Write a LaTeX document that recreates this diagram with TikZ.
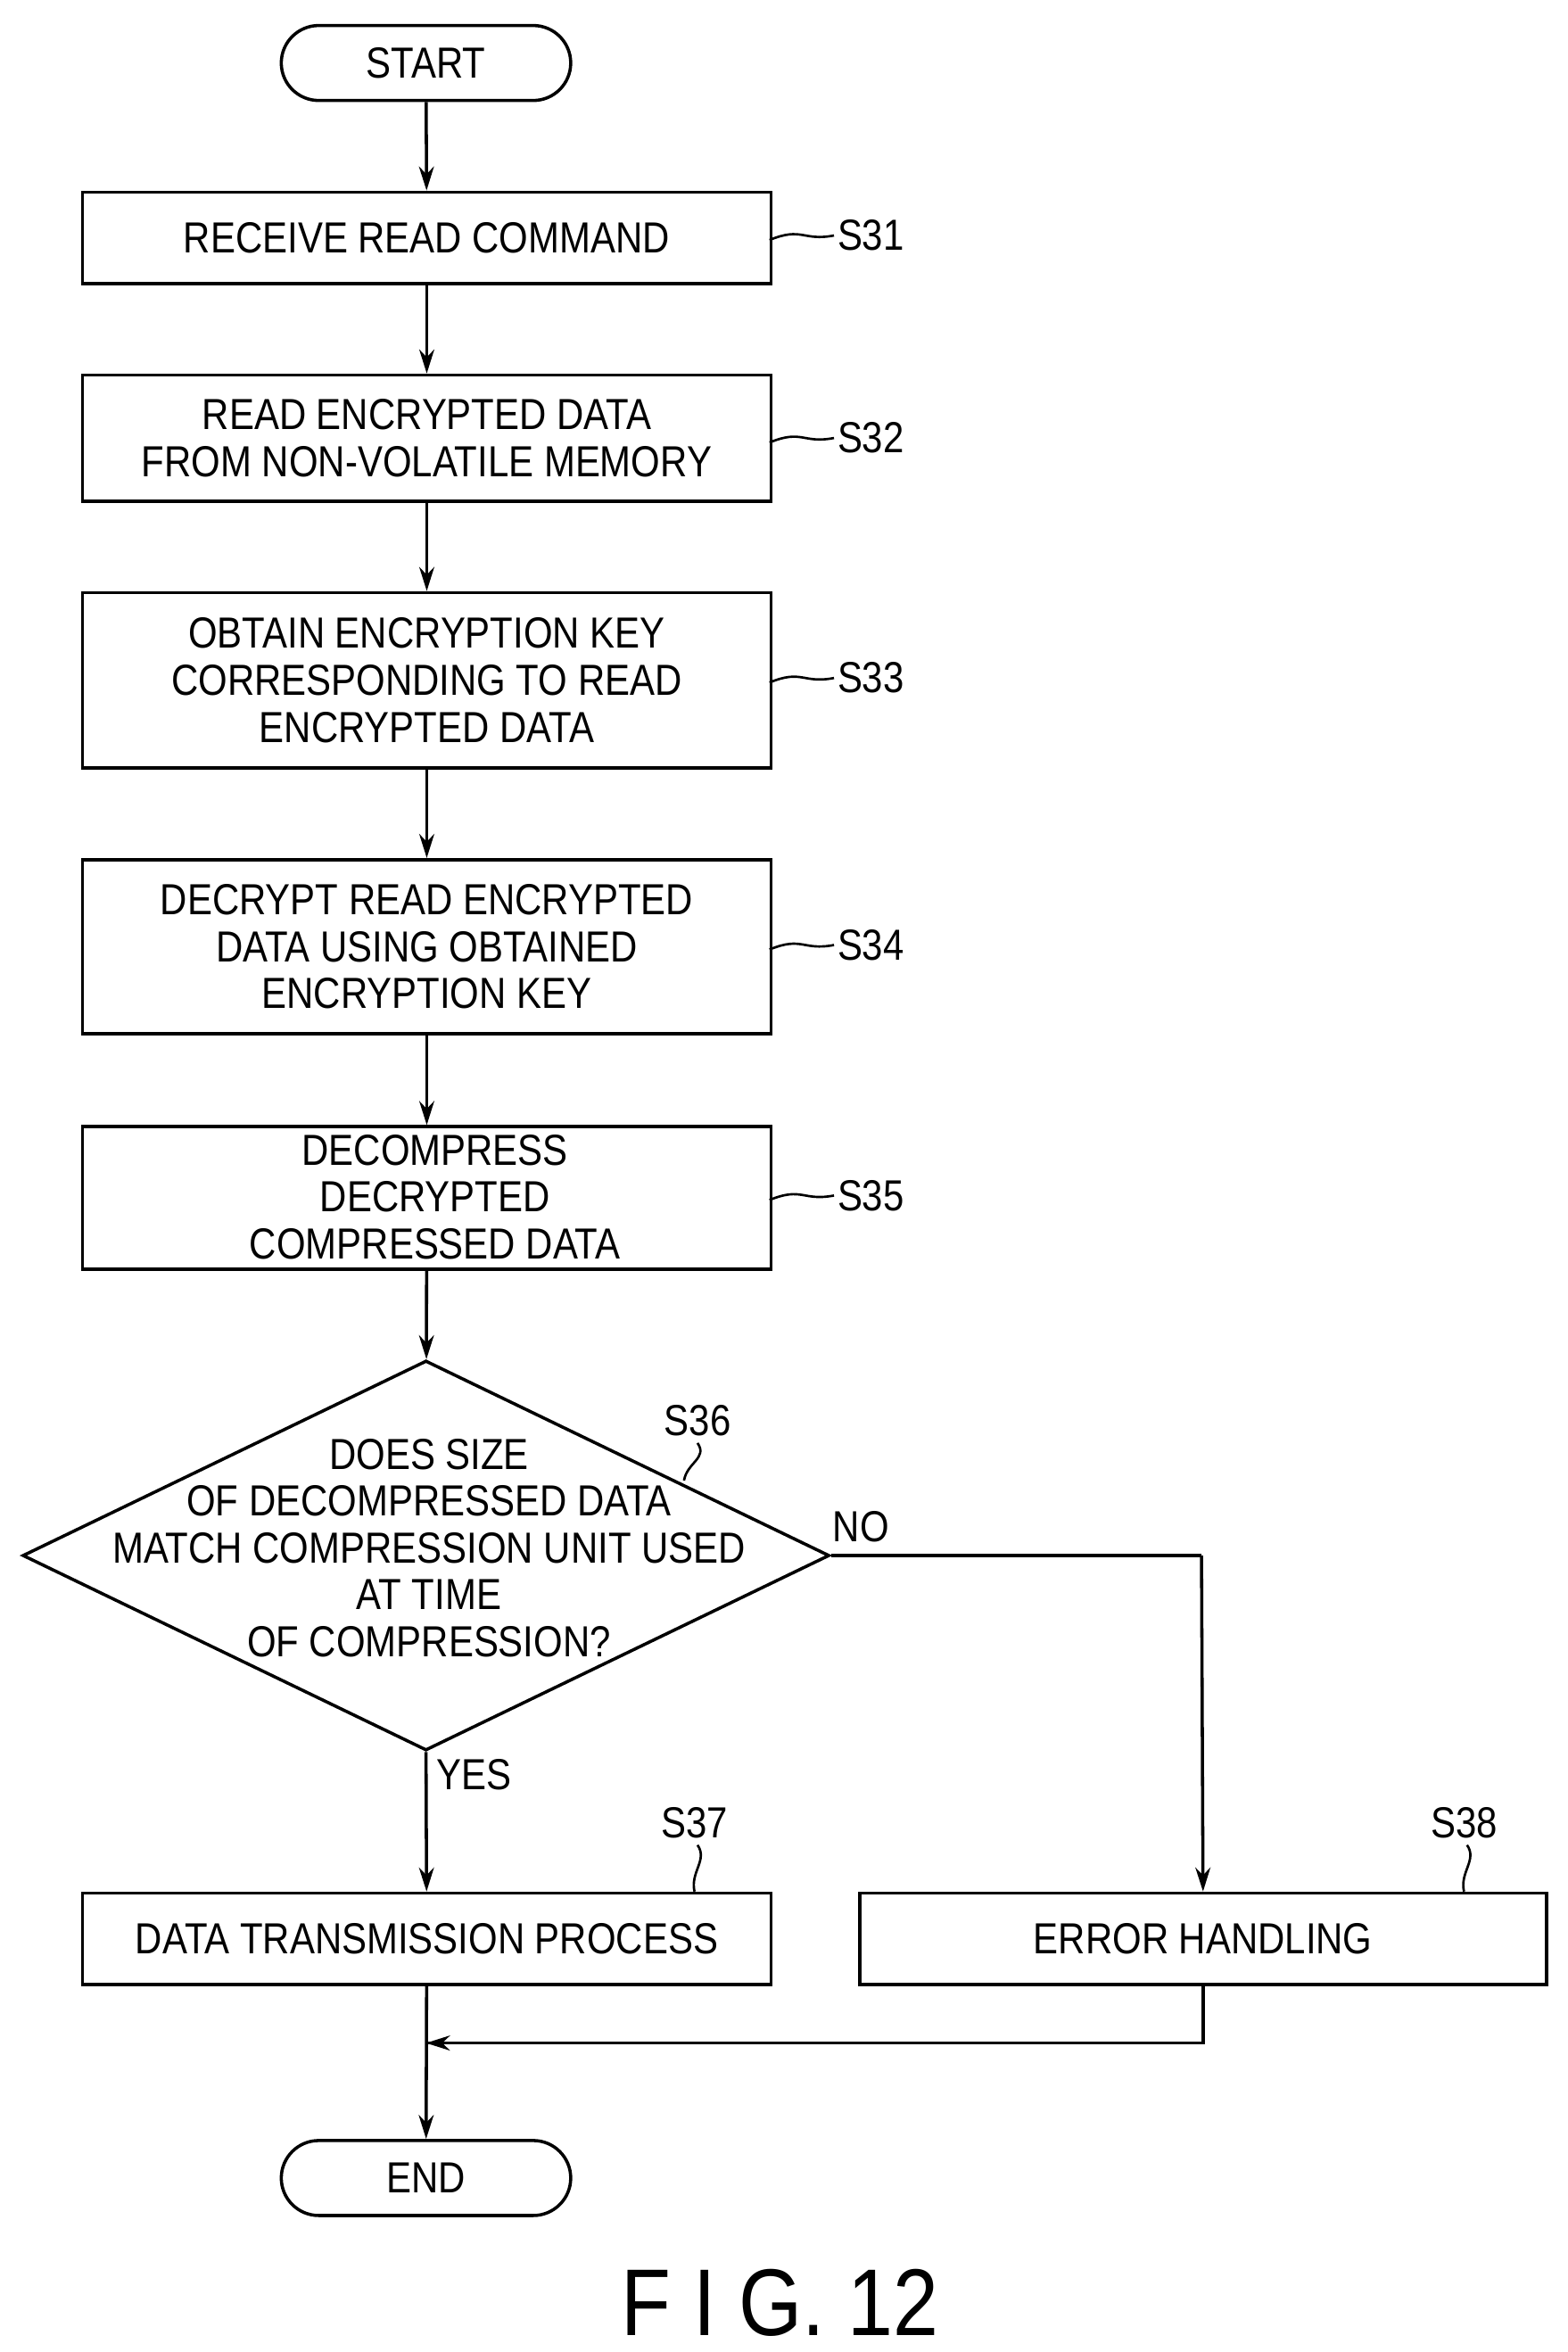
\documentclass[tikz,border=0pt]{standalone}
\usepackage{fontspec}
\setmainfont{Liberation Sans}[FakeStretch=0.86]
\usetikzlibrary{shapes.geometric,arrows.meta}
\begin{document}
\begin{tikzpicture}[x=0.02cm,y=-0.02cm,
  every node/.style={font=\fontsize{16.5}{17.8}\selectfont, align=center, inner sep=0pt},
  box/.style={draw, line width=1.2pt, minimum width=9.18cm, anchor=north west},
  term/.style={draw, line width=1.2pt, rounded corners=0.5cm, minimum width=3.86cm, minimum height=1cm},
  arr/.style={line width=1.2pt, -{Stealth[length=0.32cm,width=0.2cm]}},
  ln/.style={line width=1.2pt},
  sq/.style={line width=0.9pt}]
\fill[white] (0,0) rectangle (1045,1568);
\node[term] (start) at (284,42) {START};
\node[box, minimum height=1.22cm] (s31) at (54,127) {RECEIVE READ COMMAND};
\node[box, minimum height=1.68cm] (s32) at (54,249) {READ ENCRYPTED DATA\\FROM NON-VOLATILE MEMORY};
\node[box, minimum height=2.34cm] (s33) at (54,394) {OBTAIN ENCRYPTION KEY\\CORRESPONDING TO READ\\ENCRYPTED DATA};
\node[box, minimum height=2.32cm] (s34) at (54,572) {DECRYPT READ ENCRYPTED\\DATA USING OBTAINED\\ENCRYPTION KEY};
\node[box, minimum height=1.9cm] (s35) at (54,750) {};
\node at (290,798) {DECOMPRESS\\DECRYPTED\\COMPRESSED DATA};
\node[draw, diamond, line width=1.2pt, minimum width=10.76cm, minimum height=5.2cm] (d) at (284,1037) {};
\node at (286,1032) {DOES SIZE\\OF DECOMPRESSED DATA\\MATCH COMPRESSION UNIT USED\\AT TIME\\OF COMPRESSION?};
\node[box, minimum height=1.22cm] (s37) at (54,1261) {DATA TRANSMISSION PROCESS};
\node[box, minimum width=9.16cm, minimum height=1.22cm] (s38) at (572,1261) {ERROR HANDLING};
\node[term] (end) at (284,1452) {END};
\coordinate (m) at (284,1362);
\coordinate (c) at (801,1037);
\draw[arr] (start) -- (s31);
\draw[arr] (s31) -- (s32);
\draw[arr] (s32) -- (s33);
\draw[arr] (s33) -- (s34);
\draw[arr] (s34) -- (s35);
\draw[arr] (s35) -- (d);
\draw[arr] (d.south) -- (s37);
\draw[ln] (d.east) -- (c);
\draw[arr] (c) -- (s38.north);
\draw[arr] (s37) -- (end);
\draw[ln] (s38.south) |- (m);
\draw[arr] (s38.south |- m) -- (m);
\node at (574,1018) {NO};
\node at (316,1183) {YES};
\foreach \n/\y/\t in {s31/157/S31,s32/292/S32,s33/452/S33,s34/630/S34,s35/797/S35}{
  \draw[sq] (513,\y+3) .. controls (535,\y-6) and (535,\y+4) .. (556,\y);
  \node[anchor=west] at (558,\y) {\t};
}
\node (l36) at (465,947) {S36};
\draw[sq] (465,962) .. controls (472,972) and (458,975) .. (456,987);
\node (l37) at (463,1215) {S37};
\draw[sq] (465,1230) .. controls (472,1240) and (460,1248) .. (463,1261);
\node (l38) at (976,1215) {S38};
\draw[sq] (978,1230) .. controls (985,1240) and (973,1248) .. (976,1261);
\node[font=\fontsize{36}{40}\selectfont] at (520,1535) {F I G. 12};
\end{tikzpicture}
\end{document}
